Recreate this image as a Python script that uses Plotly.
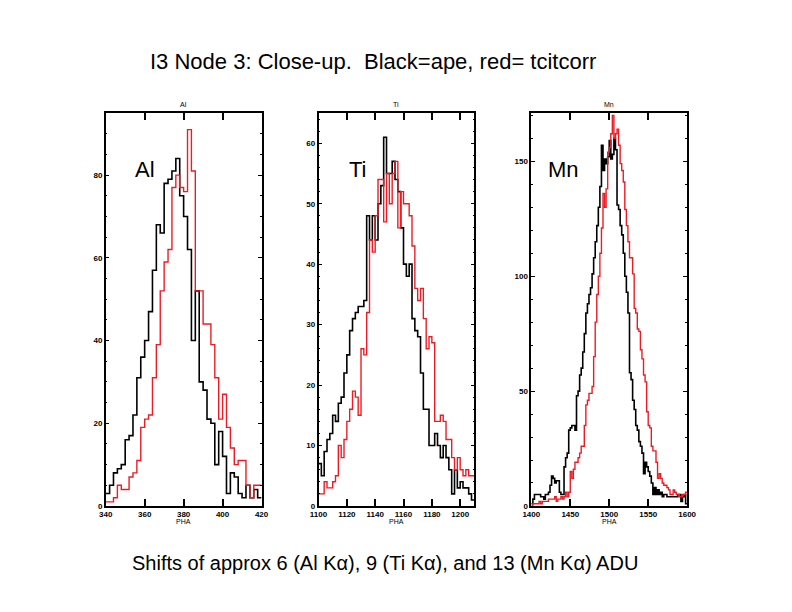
import plotly.graph_objects as go

# ---------------- data ----------------
al_start, al_width = 340, 2
al_black = [3, 5, 8, 9, 10, 16, 17, 22, 31, 36, 40, 47, 57, 68, 66, 78, 79, 81, 84, 75,
            70, 62, 40, 52, 30, 28, 21, 20, 10, 18, 12, 3, 8, 7, 3, 2, 5, 2, 4, 2]
al_red = [1, 1, 2, 5, 4, 4, 7, 8, 11, 19, 21, 22, 31, 39, 52, 59, 62, 77, 80, 77,
          76, 91, 81, 52, 52, 44, 44, 39, 31, 21, 27, 19, 14, 10, 11, 11, 5, 2, 5, 5]

ti_start, ti_width = 1100, 2
ti_black = [7, 5, 9, 11, 12, 15, 14, 17, 18, 22, 25, 29, 31, 32, 33, 33, 34, 48, 44, 48,
            44, 50, 53, 61, 55, 55, 57, 54, 52, 46, 40, 38, 40, 31, 29, 28, 22, 16, 16, 10,
            10, 12, 10, 8, 10, 8, 6, 2, 6, 3, 4, 3, 3, 2, 1]
ti_red = [2, 2, 4, 3, 3, 4, 5, 10, 8, 11, 14, 16, 19, 18, 15, 26, 25, 32, 44, 42,
          48, 54, 54, 47, 55, 50, 55, 57, 46, 52, 50, 50, 48, 43, 36, 34, 36, 31, 26, 28,
          27, 14, 14, 15, 14, 11, 11, 8, 6, 8, 6, 5, 6, 5, 5]

mn_start, mn_width = 1400, 2
mn_black = [1, 3, 5, 5, 5, 5, 4, 4, 3, 5,
            5, 6, 9, 13, 12, 10, 11, 11, 6, 5,
            5, 17, 21, 23, 33, 34, 35, 35, 33, 48,
            50, 57, 60, 67, 75, 84, 88, 92, 95, 101,
            108, 115, 122, 130, 139, 157, 146, 151, 149, 152,
            159, 151, 153, 160, 155, 131, 129, 122, 118, 110,
            100, 93, 84, 58, 55, 46, 42, 35, 33, 28,
            26, 23, 14, 19, 17, 15, 13, 10, 5, 8,
            5, 7, 5, 6, 4, 5, 5, 4, 4, 4,
            4, 4, 4, 4, 5, 5, 2, 4, 5, 1]
mn_red = [0, 1, 1, 1, 1, 2, 1, 2, 2, 2,
          2, 3, 3, 3, 3, 4, 2, 3, 3, 4,
          3, 4, 6, 4, 6, 15, 12, 16, 19, 19,
          21, 23, 26, 26, 35, 44, 46, 49, 49, 52,
          65, 80, 92, 100, 110, 121, 136, 130, 138, 154,
          156, 162, 170, 160, 162, 164, 157, 149, 146, 141,
          129, 122, 115, 108, 108, 101, 86, 84, 77, 76,
          68, 64, 57, 54, 41, 35, 34, 26, 24, 24,
          19, 12, 14, 12, 10, 9, 9, 8, 7, 5,
          5, 7, 6, 5, 5, 4, 4, 5, 5, 6]

panel_names = ["Al", "Ti", "Mn"]
x_ranges = [[340, 420], [1100, 1210], [1400, 1600]]
x_dticks = [20, 20, 50]
y_ranges = [[0, 95], [0, 65], [0, 171]]
y_dticks = [20, 10, 50]
y_minor = [5, 2, 10]

main_title = "I3 Node 3: Close-up.  Black=ape, red= tcitcorr"
bottom_text = "Shifts of approx 6 (Al K\u03b1), 9 (Ti K\u03b1), and 13 (Mn K\u03b1) ADU"

# ---------------- layout helpers ----------------
OFF = 8
W, H = 792 - 2 * OFF, 612 - 2 * OFF
# empirical correction between page pixels and the captured picture
AX, BX = 0.9777, 9.4
AY, BY = 0.991, 0.4
def px(x):
    return ((x - BX) / AX - OFF) / W
def py(y):
    return (H - ((y - BY) / AY - OFF)) / H

panel_px = [(106, 262), (319, 475), (532, 688)]
top_px, bot_px = 113.3, 506.0

def steps(start, width, vals):
    xs = [start + width * i for i in range(len(vals) + 1)]
    ys = list(vals) + [vals[-1]]
    return xs, ys

series = [
    (al_start, al_width, al_black, al_red),
    (ti_start, ti_width, ti_black, ti_red),
    (mn_start, mn_width, mn_black, mn_red),
]

fig = go.Figure()
RED = "#ec1c24"
tick_font = dict(family="Liberation Sans", size=8, color="black", weight="bold")

for i, (st, wd, blk, red) in enumerate(series):
    xa = "x" if i == 0 else f"x{i+1}"
    ya = "y" if i == 0 else f"y{i+1}"
    xs, ys = steps(st, wd, blk)
    fig.add_trace(go.Scatter(x=xs, y=ys, mode="lines", line=dict(color="black", width=1.6, shape="hv"),
                             xaxis=xa, yaxis=ya, showlegend=False, hoverinfo="skip"))
    xs, ys = steps(st, wd, red)
    fig.add_trace(go.Scatter(x=xs, y=ys, mode="lines", line=dict(color=RED, width=1.4, shape="hv"),
                             xaxis=xa, yaxis=ya, showlegend=False, hoverinfo="skip"))

layout = dict(width=W, height=H, margin=dict(l=0, r=0, t=0, b=0),
              paper_bgcolor="white", plot_bgcolor="white", showlegend=False)

for i in range(3):
    xk = "xaxis" if i == 0 else f"xaxis{i+1}"
    yk = "yaxis" if i == 0 else f"yaxis{i+1}"
    ya = "y" if i == 0 else f"y{i+1}"
    xa = "x" if i == 0 else f"x{i+1}"
    layout[xk] = dict(domain=[px(panel_px[i][0]), px(panel_px[i][1])], anchor=ya,
                      range=x_ranges[i], dtick=x_dticks[i], tick0=x_ranges[i][0],
                      showgrid=False, zeroline=False, showline=True, linecolor="black",
                      linewidth=1.5, mirror="ticks", ticks="inside", ticklen=7, tickwidth=1.5,
                      tickcolor="black", tickfont=tick_font)
    layout[yk] = dict(domain=[py(bot_px), py(top_px)], anchor=xa,
                      range=y_ranges[i], dtick=y_dticks[i], tick0=0,
                      showgrid=False, zeroline=False, showline=True, linecolor="black",
                      linewidth=1.5, mirror="ticks", ticks="inside", ticklen=4, tickwidth=1.2,
                      tickcolor="black", tickfont=tick_font,
                      minor=dict(dtick=y_minor[i], ticks="inside", ticklen=2, tickcolor="black",
                                 tickwidth=1))

fig.update_layout(**layout)

ann = []
ann.append(dict(text=main_title, x=px(373.5), y=py(62), xref="paper", yref="paper",
                showarrow=False, font=dict(family="Liberation Sans", size=22, color="black"),
                xanchor="center", yanchor="middle"))
ann.append(dict(text=bottom_text, x=px(386), y=py(563), xref="paper", yref="paper",
                showarrow=False, font=dict(family="Liberation Sans", size=20, color="black"),
                xanchor="center", yanchor="middle"))
big_label_x = [133, 348, 547]
for i in range(3):
    cx = (panel_px[i][0] + panel_px[i][1]) / 2
    ann.append(dict(text=panel_names[i], x=px(cx), y=py(105), xref="paper", yref="paper",
                    showarrow=False, font=dict(family="Liberation Sans", size=7, color="black"),
                    xanchor="center", yanchor="middle"))
    ann.append(dict(text="PHA", x=px(cx), y=py(522), xref="paper", yref="paper",
                    showarrow=False, font=dict(family="Liberation Sans", size=7, color="black"),
                    xanchor="center", yanchor="middle"))
    ann.append(dict(text=panel_names[i], x=px(big_label_x[i]), y=py(170), xref="paper", yref="paper",
                    showarrow=False, font=dict(family="Liberation Sans", size=22, color="black"),
                    xanchor="left", yanchor="middle"))
fig.update_layout(annotations=ann)

fig.write_html("out.html")
